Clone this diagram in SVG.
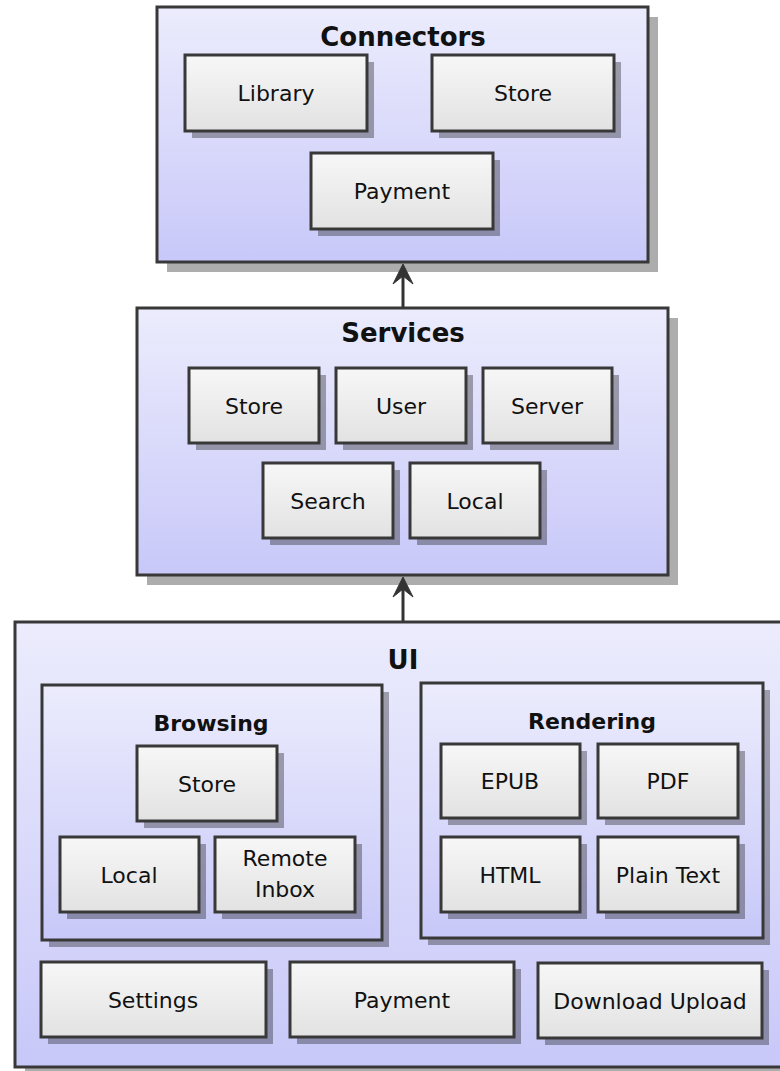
<svg xmlns="http://www.w3.org/2000/svg" width="780" height="1071" viewBox="0 0 780 1071">
<defs>
<linearGradient id="gPkg" x1="0" y1="0" x2="0" y2="1">
<stop offset="0" stop-color="#ECECFD"/>
<stop offset="1" stop-color="#C8C8F9"/>
</linearGradient>
<linearGradient id="gBox" x1="0" y1="0" x2="0" y2="1">
<stop offset="0" stop-color="#F7F7F7"/>
<stop offset="1" stop-color="#E2E2E2"/>
</linearGradient>
<style>
.pkg{fill:url(#gPkg);stroke:#383838;stroke-width:3}
.box{fill:url(#gBox);stroke:#383838;stroke-width:3}
.sh{fill:#000;fill-opacity:0.32}
.t{font-family:"DejaVu Sans","Liberation Sans",sans-serif;font-size:22px;fill:#111;text-anchor:middle}
.h{font-family:"DejaVu Sans","Liberation Sans",sans-serif;font-size:26px;font-weight:bold;fill:#111;text-anchor:middle}
.h2{font-family:"DejaVu Sans","Liberation Sans",sans-serif;font-size:22px;font-weight:bold;fill:#111;text-anchor:middle}
.ln{stroke:#333;stroke-width:3;fill:none}
.ah{fill:#333;stroke:#333;stroke-width:1}
</style>
</defs>

<g id="connectors">
<rect class="sh" x="167" y="17" width="491" height="255"/>
<rect class="pkg" x="157" y="7" width="491" height="255"/>
<text class="h" x="403" y="46">Connectors</text>
</g>
<g id="conn-library">
<rect class="sh" x="192" y="62" width="182" height="76"/>
<rect class="box" x="185" y="55" width="182" height="76"/>
<text class="t" x="276" y="101">Library</text>
</g>
<g id="conn-store">
<rect class="sh" x="439" y="62" width="182" height="76"/>
<rect class="box" x="432" y="55" width="182" height="76"/>
<text class="t" x="523" y="101">Store</text>
</g>
<g id="conn-payment">
<rect class="sh" x="318" y="160" width="182" height="76"/>
<rect class="box" x="311" y="153" width="182" height="76"/>
<text class="t" x="402" y="199">Payment</text>
</g>

<g id="services">
<rect class="sh" x="147" y="318" width="531" height="267"/>
<rect class="pkg" x="137" y="308" width="531" height="267"/>
<text class="h" x="403" y="342">Services</text>
</g>
<g id="svc-store">
<rect class="sh" x="196" y="375" width="130" height="75"/>
<rect class="box" x="189" y="368" width="130" height="75"/>
<text class="t" x="254" y="414">Store</text>
</g>
<g id="svc-user">
<rect class="sh" x="343" y="375" width="130" height="75"/>
<rect class="box" x="336" y="368" width="130" height="75"/>
<text class="t" x="401" y="414">User</text>
</g>
<g id="svc-server">
<rect class="sh" x="490" y="375" width="129" height="75"/>
<rect class="box" x="483" y="368" width="129" height="75"/>
<text class="t" x="547" y="414">Server</text>
</g>
<g id="svc-search">
<rect class="sh" x="270" y="470" width="130" height="75"/>
<rect class="box" x="263" y="463" width="130" height="75"/>
<text class="t" x="328" y="509">Search</text>
</g>
<g id="svc-local">
<rect class="sh" x="417" y="470" width="130" height="75"/>
<rect class="box" x="410" y="463" width="130" height="75"/>
<text class="t" x="475" y="509">Local</text>
</g>

<g id="ui">
<rect class="sh" x="25" y="632" width="800" height="445"/>
<rect class="pkg" x="15" y="622" width="800" height="445"/>
<text class="h" x="403" y="669">UI</text>
</g>
<g id="browsing">
<rect class="sh" x="49" y="692" width="340" height="255"/>
<rect class="pkg" x="42" y="685" width="340" height="255"/>
<text class="h2" x="211" y="731">Browsing</text>
</g>
<g id="br-store">
<rect class="sh" x="144" y="753" width="140" height="75"/>
<rect class="box" x="137" y="746" width="140" height="75"/>
<text class="t" x="207" y="792">Store</text>
</g>
<g id="br-local">
<rect class="sh" x="67" y="844" width="139" height="75"/>
<rect class="box" x="60" y="837" width="139" height="75"/>
<text class="t" x="129" y="883">Local</text>
</g>
<g id="br-remote">
<rect class="sh" x="222" y="844" width="140" height="75"/>
<rect class="box" x="215" y="837" width="140" height="75"/>
<text class="t" x="285" y="866">Remote</text>
<text class="t" x="285" y="897">Inbox</text>
</g>
<g id="rendering">
<rect class="sh" x="428" y="690" width="342" height="255"/>
<rect class="pkg" x="421" y="683" width="342" height="255"/>
<text class="h2" x="592" y="729">Rendering</text>
</g>
<g id="rd-epub">
<rect class="sh" x="448" y="751" width="139" height="74"/>
<rect class="box" x="441" y="744" width="139" height="74"/>
<text class="t" x="510" y="789">EPUB</text>
</g>
<g id="rd-pdf">
<rect class="sh" x="605" y="751" width="140" height="74"/>
<rect class="box" x="598" y="744" width="140" height="74"/>
<text class="t" x="668" y="789">PDF</text>
</g>
<g id="rd-html">
<rect class="sh" x="448" y="844" width="139" height="75"/>
<rect class="box" x="441" y="837" width="139" height="75"/>
<text class="t" x="510" y="883">HTML</text>
</g>
<g id="rd-plain">
<rect class="sh" x="605" y="844" width="140" height="75"/>
<rect class="box" x="598" y="837" width="140" height="75"/>
<text class="t" x="668" y="883">Plain Text</text>
</g>
<g id="ui-settings">
<rect class="sh" x="48" y="969" width="225" height="75"/>
<rect class="box" x="41" y="962" width="225" height="75"/>
<text class="t" x="153" y="1008">Settings</text>
</g>
<g id="ui-payment">
<rect class="sh" x="297" y="969" width="224" height="75"/>
<rect class="box" x="290" y="962" width="224" height="75"/>
<text class="t" x="402" y="1008">Payment</text>
</g>
<g id="ui-download">
<rect class="sh" x="545" y="970" width="224" height="75"/>
<rect class="box" x="538" y="963" width="224" height="75"/>
<text class="t" x="650" y="1009">Download Upload</text>
</g>

<g id="edges">
<line class="ln" x1="403" y1="307" x2="403" y2="270"/>
<path class="ah" d="M403,264 L413,284 L403,276 L393,284 Z"/>
<line class="ln" x1="403" y1="621" x2="403" y2="583"/>
<path class="ah" d="M403,577 L413,597 L403,589 L393,597 Z"/>
</g>
</svg>
